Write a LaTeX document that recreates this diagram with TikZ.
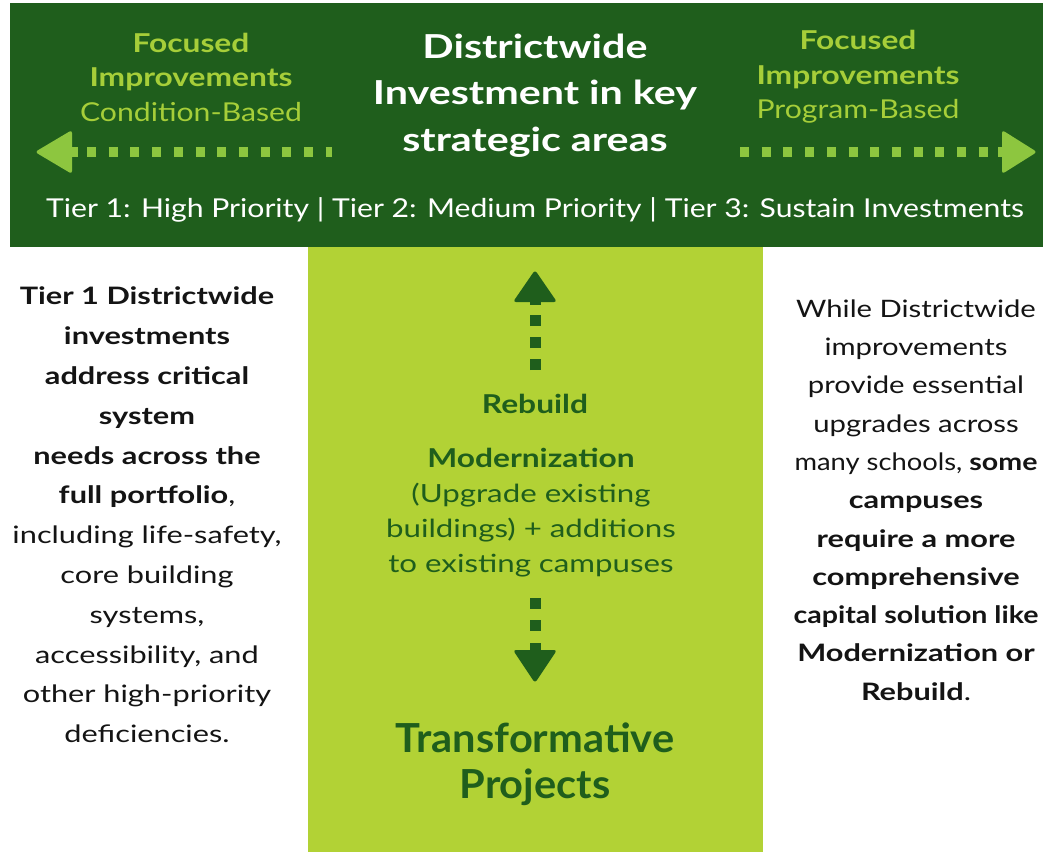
\documentclass[tikz,border=0pt]{standalone}
\usepackage{fontspec}
\setmainfont{Lato}
\newfontfamily\fA{Lato}[FakeStretch=1.16]
\newfontfamily\fB{Lato}[FakeStretch=1.22]
\newfontfamily\fC{Lato}[FakeStretch=1.25]
\newfontfamily\fD{Lato}[FakeStretch=1.28]
\newfontfamily\fE{Lato}[FakeStretch=1.04]
\newfontfamily\fF{Lato}[FakeStretch=1.14]
\newfontfamily\fG{Lato}[FakeStretch=1.19]
\definecolor{dkgreen}{RGB}{31,94,28}
\definecolor{ltpanel}{RGB}{178,210,53}
\definecolor{bantext}{RGB}{166,206,57}
\definecolor{banarrow}{RGB}{141,198,63}
\definecolor{bodytext}{RGB}{20,20,20}
\begin{document}
\begin{tikzpicture}[x=1pt,y=-1pt,
  txt/.style={inner sep=0pt, align=center},
  hdash/.style={banarrow, line width=10pt, dash pattern=on 9pt off 12.7pt},
  vdash/.style={dkgreen, line width=11pt, dash pattern=on 11pt off 11pt},
  headfill/.style={rounded corners=3pt}]
\clip (0,0) rectangle (1043,852);
\fill[white] (0,0) rectangle (1043,852);
\fill[dkgreen] (10,3) rectangle (1043,247);
\fill[ltpanel] (308,247) rectangle (763,852);

% banner texts
\node[txt, text=white, font=\fontsize{33}{46.5}\fC\selectfont\bfseries] (title) at (535,95.5)
  {Districtwide\\Investment in key\\strategic areas};
\node[txt, text=bantext, font=\fontsize{26}{34.5}\selectfont] (focl) at (191,77)
  {\fB\bfseries Focused\\\fB\bfseries Improvements\\\fA Condition-Based};
\node[txt, text=bantext, font=\fontsize{26}{34.5}\selectfont] (focr) at (858,77)
  {\fB\bfseries Focused\\\fB\bfseries Improvements\\\fA Program-Based};
\node[txt, text=white, font=\fontsize{26}{30}\fA\selectfont, anchor=base] (tiers) at (535,217)
  {Tier 1: High Priority | Tier 2: Medium Priority | Tier 3: Sustain Investments};

% horizontal arrows
\coordinate (lstart) at (332,152);
\coordinate (lend) at (87,152);
\coordinate (ltip) at (35,152);
\draw[hdash] (lend) -- (lstart);
\fill[banarrow, headfill] (ltip) -- (72,130) -- (72,174) -- cycle;
\fill[banarrow] (70,147) rectangle (78,157);

\coordinate (rstart) at (740,152);
\coordinate (rend) at (995,152);
\coordinate (rtip) at (1037,152);
\draw[hdash] (rstart) -- (rend);
\fill[banarrow, headfill] (rtip) -- (1002,130) -- (1002,174) -- cycle;
\fill[banarrow] (998,147) rectangle (1005,157);

% side texts
\node[txt, text=bodytext, font=\fontsize{24}{39.8}\fD\selectfont] (lefttext) at (147,515)
  {\bfseries Tier 1 Districtwide\\\bfseries investments\\\bfseries address critical\\\bfseries system\\\bfseries needs across the\\\bfseries full portfolio{\mdseries,}\\including life-safety,\\core building\\systems,\\accessibility, and\\other high-priority\\deficiencies.};
\node[txt, text=bodytext, font=\fontsize{24}{38.3}\fB\selectfont] (righttext) at (916,500)
  {While Districtwide\\improvements\\provide essential\\upgrades across\\{\fF many schools, }{\fG\bfseries some}\\\fD\bfseries campuses\\\fD\bfseries require a more\\\fD\bfseries comprehensive\\\fG\bfseries capital solution like\\\fD\bfseries Modernization or\\\fD\bfseries Rebuild{\mdseries.}};

% center panel
\node[txt, text=dkgreen, font=\fontsize{26}{30}\fB\selectfont\bfseries, anchor=base] (rebuild) at (535,413) {Rebuild};
\node[txt, text=dkgreen, font=\fontsize{25}{35}\fC\selectfont] (modern) at (531,513)
  {{\fontsize{26}{35}\fB\selectfont\bfseries Modernization}\\(Upgrade existing\\buildings) + additions\\to existing campuses};
\node[txt, text=dkgreen, font=\fontsize{40}{46}\fE\selectfont\bfseries] (transf) at (535,764)
  {Transformative\\Projects};

% vertical arrows
\coordinate (ustart) at (535,370);
\coordinate (uend) at (535,315);
\coordinate (utip) at (535,270);
\draw[vdash] (ustart) -- (uend);
\fill[dkgreen, headfill] (utip) -- (557,302) -- (513,302) -- cycle;
\fill[dkgreen] (530,300) rectangle (541,305);

\coordinate (dstart) at (535,598);
\coordinate (dend) at (535,632);
\coordinate (dtip) at (535,683);
\draw[vdash] (dstart) -- (dend);
\fill[dkgreen] (530,643) rectangle (541,652);
\fill[dkgreen, headfill] (dtip) -- (513,650) -- (557,650) -- cycle;
\end{tikzpicture}
\end{document}
